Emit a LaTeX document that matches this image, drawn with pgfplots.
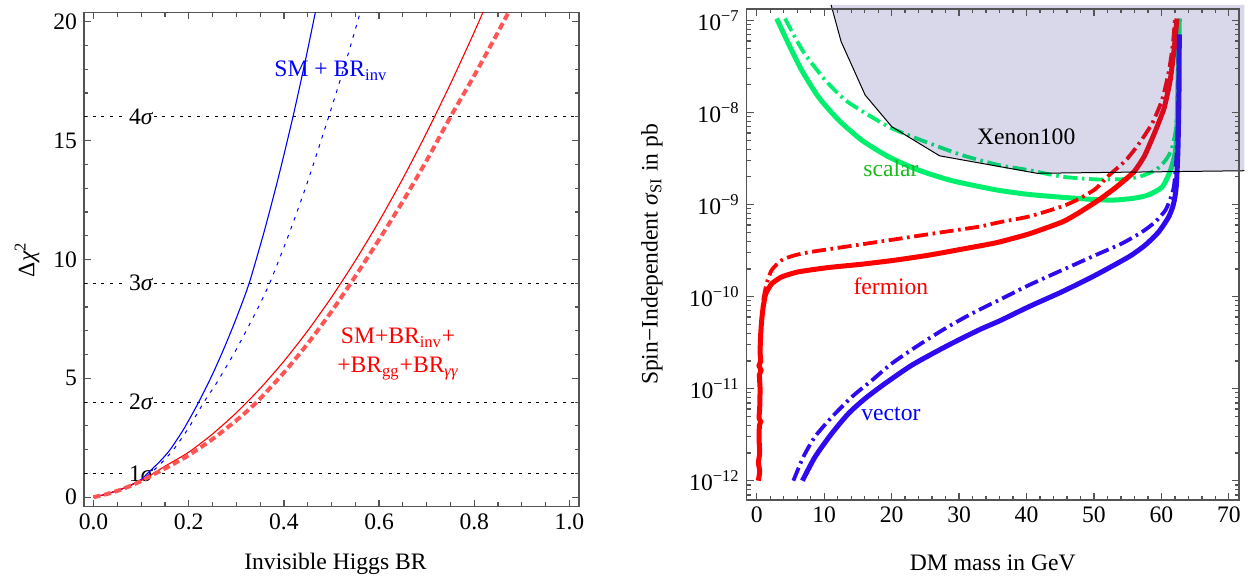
\documentclass[border=0pt]{standalone}
\usepackage{fontspec}
\setmainfont{Liberation Serif}
\usepackage{pgfplots}
\pgfplotsset{compat=1.18}

\definecolor{framegray}{gray}{0.33}
\definecolor{salmon}{RGB}{255,85,85}
\definecolor{scalargreen}{RGB}{0,240,110}
\definecolor{scalartext}{RGB}{25,185,25}
\definecolor{vectorblue}{RGB}{45,10,240}
\definecolor{xenonfill}{RGB}{60,60,150}

\pgfplotsset{
  mmastyle/.style={
    scale only axis,
    tick align=inside,
    major tick length=3.5pt,
    minor tick length=2.2pt,
    tick style={framegray, line width=0.6pt},
    axis line style={framegray, line width=0.7pt},
  },
  sigmaline/.style={black, line width=0.5pt, dash pattern=on 1.5pt off 2.85pt},
  thickdashdot/.style={line width=1.9pt, dash pattern=on 7pt off 2.3pt on 1.3pt off 2.3pt},
}

\begin{document}
\begin{tikzpicture}[font=\fontsize{11.8}{14.5}\selectfont]
\useasboundingbox (0,0) rectangle (626.5pt,290.5pt);

% ---------------- left: Delta chi^2 versus invisible branching ratio
\begin{axis}[
  mmastyle,
  at={(42pt,37.15pt)}, anchor=south west,
  width=247.5pt, height=247.2pt,
  xmin=-0.02, xmax=1.02, ymin=-0.4, ymax=20.4,
  xtick={0,0.2,0.4,0.6,0.8,1}, xticklabels={0.0,0.2,0.4,0.6,0.8,1.0},
  minor x tick num=3,
  ytick={0,5,10,15,20}, yticklabels={0,5,10,15,20},
  minor y tick num=4,
  xlabel={Invisible Higgs BR},
  ylabel={Δ\textit{χ}\textsuperscript{2}},
  xlabel style={at={(axis description cs:0.508,-0.1159)}, anchor=center},
  ylabel style={at={(axis description cs:-0.1152,0.5)}, anchor=center},
]
% confidence levels
\addplot[sigmaline] coordinates {(-0.02,1) (1.02,1)};
\addplot[sigmaline] coordinates {(-0.02,4) (1.02,4)};
\addplot[sigmaline] coordinates {(-0.02,9) (1.02,9)};
\addplot[sigmaline] coordinates {(-0.02,16) (1.02,16)};
\node[fill=white, inner sep=0.6pt] at (axis cs:0.1,1) {1\textit{σ}};
\node[fill=white, inner sep=0.6pt] at (axis cs:0.1,4) {2\textit{σ}};
\node[fill=white, inner sep=0.6pt] at (axis cs:0.1,9) {3\textit{σ}};
\node[fill=white, inner sep=0.6pt] at (axis cs:0.1,16) {4\textit{σ}};

% SM + BR_inv
\addplot[blue, line width=0.55pt, smooth, tension=0.4] coordinates {
 (0,0) (0.025,0.12) (0.05,0.275) (0.075,0.47) (0.1,0.74) (0.1135,1.0)
 (0.14,1.516) (0.161,2.0) (0.19,2.88) (0.221,4.0) (0.25,5.17) (0.275,6.30)
 (0.3,7.53) (0.327,9.0) (0.36,11.28) (0.39,13.58) (0.419,16.0) (0.445,18.36)
 (0.47,20.78)};
\addplot[blue, line width=0.5pt, dash pattern=on 1.8pt off 3pt, smooth, tension=0.4] coordinates {
 (0,0) (0.025,0.12) (0.05,0.275) (0.075,0.47) (0.1,0.73) (0.119,1.0)
 (0.14,1.385) (0.168,2.0) (0.2,2.92) (0.232,4.0) (0.26,4.85) (0.3,6.22)
 (0.34,7.74) (0.37,9.0) (0.41,11.04) (0.45,13.28) (0.494,16.0) (0.53,18.31)
 (0.565,20.71)};

% SM + BR_inv + BR_gg + BR_gammagamma
\addplot[red, line width=0.55pt, smooth, tension=0.4] coordinates {
 (0,0) (0.025,0.12) (0.05,0.275) (0.075,0.47) (0.1,0.7) (0.126,1.0)
 (0.15,1.3) (0.2,1.893) (0.25,2.657) (0.3,3.55) (0.35,4.57) (0.4,5.72)
 (0.45,7.0) (0.5,8.41) (0.55,9.95) (0.6,11.61) (0.65,13.41) (0.7,15.34)
 (0.75,17.39) (0.8,19.57) (0.83,20.95)};
\addplot[salmon, line width=2pt, dash pattern=on 3.5pt off 1.9pt, smooth, tension=0.4] coordinates {
 (0,0) (0.025,0.115) (0.05,0.265) (0.075,0.455) (0.1,0.68) (0.13,1.0)
 (0.15,1.2) (0.2,1.764) (0.25,2.443) (0.3,3.23) (0.343,4.0) (0.4,5.24)
 (0.45,6.46) (0.5,7.81) (0.55,9.29) (0.6,10.84) (0.65,12.45) (0.7,14.17)
 (0.75,16.0) (0.8,17.74) (0.85,19.57) (0.88,20.7)};

\node[text=blue] at (axis cs:0.4987,17.95) {SM + BR\textsubscript{inv}};
\node[text=red, align=center] at (axis cs:0.64,6.03)
  {SM+BR\textsubscript{inv}+\\+BR\textsubscript{gg}+BR\textsubscript{\textit{γγ}}};
\end{axis}

% ---------------- right: spin-independent cross section versus DM mass
\begin{axis}[
  mmastyle,
  at={(373.35pt,40.5pt)}, anchor=south west,
  width=246.15pt, height=245.5pt,
  xmin=-1.48, xmax=71.5,
  ymode=log, ymin=6.17e-13, ymax=1.334e-7,
  clip=false, axis on top,
  xtick={0,10,20,30,40,50,60,70}, xticklabels={0,10,20,30,40,50,60,70},
  minor x tick num=4,
  ytick={1e-12,1e-11,1e-10,1e-9,1e-8,1e-7},
  yticklabels={10\textsuperscript{−12},10\textsuperscript{−11},10\textsuperscript{−10},
               10\textsuperscript{−9},10\textsuperscript{−8},10\textsuperscript{−7}},
  minor ytick={7e-13,8e-13,9e-13,
    2e-12,3e-12,4e-12,5e-12,6e-12,7e-12,8e-12,9e-12,
    2e-11,3e-11,4e-11,5e-11,6e-11,7e-11,8e-11,9e-11,
    2e-10,3e-10,4e-10,5e-10,6e-10,7e-10,8e-10,9e-10,
    2e-9,3e-9,4e-9,5e-9,6e-9,7e-9,8e-9,9e-9,
    2e-8,3e-8,4e-8,5e-8,6e-8,7e-8,8e-8,9e-8},
  xlabel={DM mass in GeV},
  ylabel={Spin−Independent \textit{σ}\textsubscript{SI} in pb},
  xlabel style={at={(axis description cs:0.5,-0.1283)}, anchor=center},
  ylabel style={at={(axis description cs:-0.1924,0.5)}, anchor=center},
]
% scalar
\addplot[scalargreen, line width=2.5pt, smooth, tension=0.4] coordinates {
 (2.97,1.05e-7) (4.70,5.62e-8) (6.68,2.88e-8) (9.15,1.48e-8) (12.12,8.32e-9)
 (15.58,5.01e-9) (19.54,3.31e-9) (23.99,2.37e-9) (28.94,1.82e-9) (35.5,1.445e-9)
 (40.3,1.29e-9) (45.3,1.20e-9) (50,1.135e-9) (53,1.12e-9) (56,1.175e-9)
 (58,1.27e-9) (60.1,1.55e-9) (61.35,2.37e-9) (62.1,3.89e-9) (62.35,8.91e-9)
 (62.5,3.16e-8) (62.65,1.05e-7)};
\addplot[scalargreen, thickdashdot, smooth, tension=0.4] coordinates {
 (4.20,1.05e-7) (6.92,4.57e-8) (10.14,2.26e-8) (13.11,1.37e-8) (16.57,9.4e-9)
 (20.04,6.73e-9) (24.98,4.82e-9) (30.42,3.45e-9) (35.87,2.69e-9) (40.32,2.37e-9)
 (45.27,2.01e-9) (50.22,1.88e-9) (54.2,1.89e-9) (56.65,2.0e-9) (59.13,2.37e-9)
 (60.6,3.02e-9) (61.5,3.98e-9) (62.1,6.3e-9) (62.4,1.26e-8) (62.6,1.05e-7)};

% fermion
\addplot[red, line width=2.5pt, smooth, tension=0.3] coordinates {
 (0.24,1.0e-12) (0.45,1.26e-12) (0.25,1.58e-12) (0.45,2.0e-12) (0.35,2.82e-12)
 (0.4,3.98e-12) (0.6,4.37e-12) (0.35,4.79e-12) (0.45,6.31e-12) (0.5,1e-11)
 (0.4,1.41e-11) (0.65,1.58e-11) (0.35,1.78e-11) (0.6,2.0e-11) (0.5,2.51e-11)
 (0.6,3.98e-11) (0.75,5.62e-11) (0.95,7.59e-11) (1.33,1.07e-10) (2.22,1.38e-10)
 (3.71,1.64e-10) (6.18,1.86e-10) (10.63,2.07e-10) (15.58,2.25e-10) (20.53,2.49e-10)
 (25.48,2.82e-10) (30.43,3.28e-10) (35.5,3.85e-10) (40.32,4.79e-10) (45.27,6.46e-10)
 (47.5,7.94e-10) (50.7,1.12e-9) (53.3,1.55e-9) (55.9,2.26e-9) (57.5,3.39e-9)
 (59.1,6.31e-9) (60.4,1.12e-8) (61.3,2.24e-8) (61.9,5.01e-8) (62.3,1.05e-7)};
\addplot[red, thickdashdot, smooth, tension=0.4] coordinates {
 (0.5,2.51e-11) (0.7,5.01e-11) (0.98,9.12e-11) (1.48,1.39e-10) (2.22,1.94e-10)
 (3.71,2.49e-10) (5.69,2.82e-10) (8.16,3.07e-10) (13.11,3.48e-10) (18.05,3.94e-10)
 (23.0,4.47e-10) (27.95,5.07e-10) (32.9,5.74e-10) (36.12,6.46e-10) (40.32,7.41e-10)
 (45.27,9.55e-10) (47.74,1.15e-9) (50.22,1.48e-9) (52.1,2.04e-9) (54.7,3.02e-9)
 (56.65,4.57e-9) (58.6,7.59e-9) (60.1,1.38e-8) (61.1,2.82e-8) (61.7,5.62e-8)
 (62.0,1.05e-7)};

% vector
\addplot[vectorblue, line width=2.5pt, smooth, tension=0.4] coordinates {
 (6.78,1.0e-12) (8.66,1.82e-12) (11.13,3.26e-12) (13.61,5.37e-12) (16.08,7.82e-12)
 (19.05,1.14e-11) (23.0,1.80e-11) (27.95,2.85e-11) (32.9,4.33e-11) (36.12,5.50e-11)
 (40.32,7.76e-11) (45.27,1.13e-10) (50.22,1.71e-10) (55.17,2.71e-10) (57.6,3.63e-10)
 (59.6,5.06e-10) (61.1,7.41e-10) (61.8,1.02e-9) (62.2,1.58e-9) (62.45,3.98e-9)
 (62.6,1.58e-8) (62.65,7.08e-8)};
\addplot[vectorblue, thickdashdot, smooth, tension=0.4] coordinates {
 (5.44,1.0e-12) (6.93,1.82e-12) (8.66,3.02e-12) (11.13,4.90e-12) (14.10,8.13e-12)
 (17.07,1.23e-11) (20.04,1.88e-11) (24.0,2.97e-11) (27.95,4.51e-11) (31.91,6.56e-11)
 (36.12,9.33e-11) (40.32,1.33e-10) (45.27,1.94e-10) (50.22,2.82e-10) (54.2,3.80e-10)
 (57.15,5.06e-10) (59.1,6.50e-10) (60.6,8.71e-10) (61.35,1.175e-9) (61.85,1.58e-9)
 (62.2,3.16e-9) (62.45,1.0e-8) (62.55,3.98e-8)};

% Xenon100 exclusion
\addplot[draw=none, fill=xenonfill, fill opacity=0.2] coordinates {
 (11.03,1.479e-7) (12.52,5.888e-8) (16.08,1.549e-8) (20.04,7.0e-9) (27.11,3.388e-9)
 (41.56,2.188e-9) (72.3,2.333e-9) (72.3,1.479e-7)} -- cycle;
\addplot[black, line width=0.5pt] coordinates {
 (11.03,1.479e-7) (12.52,5.888e-8) (16.08,1.549e-8) (20.04,7.0e-9) (27.11,3.388e-9)
 (41.56,2.188e-9) (72.3,2.333e-9)};

\node at (axis cs:39.95,5.46e-9) {Xenon100};
\node[text=scalartext] at (axis cs:19.9,2.47e-9) {scalar};
\node[text=red] at (axis cs:19.9,1.31e-10) {fermion};
\node[text=blue, fill=white, inner sep=0.6pt] at (axis cs:19.9,5.29e-12) {vector};
\end{axis}
\end{tikzpicture}
\end{document}
